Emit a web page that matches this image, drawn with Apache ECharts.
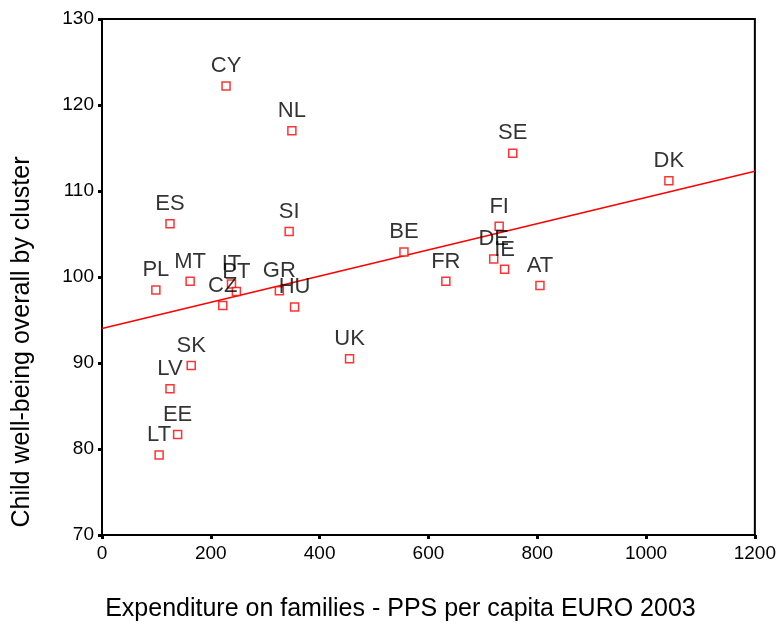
<!DOCTYPE html>
<html>
<head>
<meta charset="utf-8">
<script src="https://cdn.jsdelivr.net/npm/echarts@6/dist/echarts.min.js"></script>
<style>
  html, body { margin: 0; padding: 0; background: #fff; }
  #chart { width: 779px; height: 630px; }
</style>
</head>
<body>
<div id="chart"></div>
<script>
// country codes, expenditure (PPS per capita EURO 2003), child well-being
const countries = ['CY', 'NL', 'SE', 'DK', 'ES', 'SI', 'BE', 'FI', 'DE', 'IE', 'AT', 'FR',
  'PL', 'MT', 'IT', 'PT', 'CZ', 'GR', 'HU', 'UK', 'SK', 'LV', 'EE', 'LT']
const expenditure = [228, 349, 755, 1042, 125, 344, 555, 730, 720, 740, 805, 632,
  99, 162, 238, 247, 222, 326, 354, 455, 164, 125, 139, 105]
const wellbeing = [122.2, 117.0, 114.4, 111.2, 106.2, 105.3, 102.9, 105.9, 102.1, 100.9, 99.0, 99.5,
  98.5, 99.5, 99.2, 98.3, 96.7, 98.4, 96.5, 90.5, 89.7, 87.0, 81.7, 79.3]
// fit line end points
const fitX = [0, 1200]
const fitY = [94.0, 112.3]

const xTicks = [0, 1200, 200]
const yTicks = [70, 130, 10]

const font = 'Liberation Sans, Arial, sans-serif'

let points = countries.map((c, i) => {
  return { name: c, value: [expenditure[i], wellbeing[i]] }
})
let fitLine = fitX.map((x, i) => [x, fitY[i]])

let chart = echarts.init(document.getElementById('chart'))
chart.setOption({
  backgroundColor: '#fff',
  animation: false,
  grid: {
    left: 102,
    right: 23,
    top: 19,
    bottom: 95,
    show: true,
    borderColor: '#000',
    borderWidth: 2,
    containLabel: false
  },
  xAxis: {
    type: 'value',
    min: xTicks[0],
    max: xTicks[1],
    interval: xTicks[2],
    name: 'Expenditure on families - PPS per capita EURO 2003',
    nameLocation: 'middle',
    nameGap: 62,
    // title sits a little left of the plot centre in the original
    nameTextStyle: { fontFamily: font, fontSize: 25, color: '#000', padding: [0, 56, 0, 0] },
    axisLine: { lineStyle: { color: '#000', width: 2 } },
    axisTick: { show: true, length: 4, lineStyle: { color: '#000', width: 3 } },
    axisLabel: { fontFamily: font, fontSize: 19, color: '#000', margin: 9, formatter: v => String(v) },
    splitLine: { show: false }
  },
  yAxis: {
    type: 'value',
    min: yTicks[0],
    max: yTicks[1],
    interval: yTicks[2],
    name: 'Child well-being overall by cluster',
    nameLocation: 'middle',
    nameGap: 67,
    // and this one sits lower than the centre
    nameTextStyle: { fontFamily: font, fontSize: 25, color: '#000', padding: [0, 130, 0, 0] },
    axisLine: { lineStyle: { color: '#000', width: 2 } },
    axisTick: { show: true, length: 4, lineStyle: { color: '#000', width: 3 } },
    axisLabel: { fontFamily: font, fontSize: 19, color: '#000', margin: 8 },
    splitLine: { show: false }
  },
  series: [
    {
      type: 'line',
      data: fitLine,
      symbol: 'none',
      lineStyle: { color: '#ff0000', width: 1.5 },
      z: 2
    },
    {
      type: 'scatter',
      data: points,
      symbol: 'rect',
      symbolSize: 8,
      itemStyle: { color: '#fff', borderColor: '#ff0000', borderWidth: 1.5 },
      label: {
        show: true,
        position: 'top',
        distance: 4,
        formatter: p => p.name,
        fontFamily: font,
        fontSize: 22,
        color: '#000'
      },
      z: 3
    }
  ]
})
</script>
</body>
</html>
